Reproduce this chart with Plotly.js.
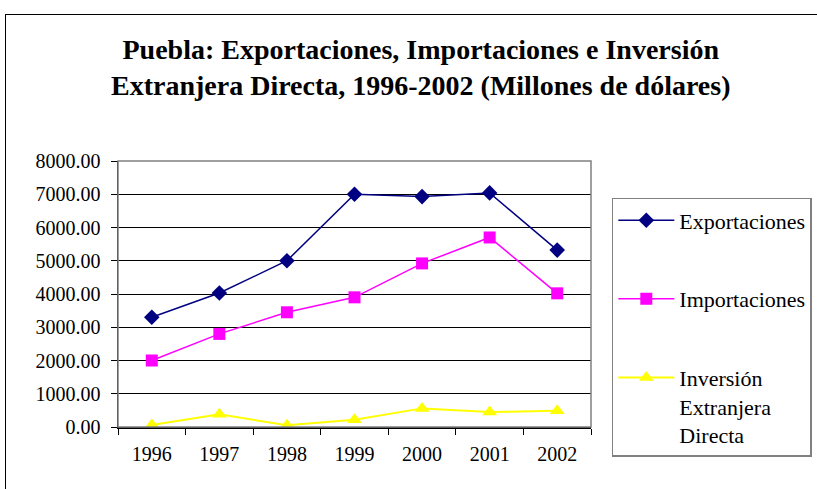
<!DOCTYPE html>
<html>
<head>
<meta charset="utf-8">
<script src="https://cdn.plot.ly/plotly-3.0.1.min.js"></script>
<style>
html,body{margin:0;padding:0;background:#fff;overflow:hidden;}
#frame{position:absolute;left:5px;top:14px;width:900px;height:600px;border:1.5px solid #000;pointer-events:none;}
#chart{position:absolute;left:0;top:0;width:817px;height:489px;}
</style>
</head>
<body>
<div id="chart"></div>
<div id="frame"></div>
<script>
const years = ["1996","1997","1998","1999","2000","2001","2002"];
const exportaciones = [3300, 4030, 5000, 7000, 6930, 7040, 5320];
const importaciones = [2000, 2800, 3450, 3900, 4920, 5700, 4020];
const inversion = [60, 380, 50, 220, 560, 450, 490];
const yTicks = [0,1000,2000,3000,4000,5000,6000,7000,8000];
const yTickText = yTicks.map(v => v.toFixed(2));

const SERIF = "Liberation Serif";

const traces = [
  {x: years, y: exportaciones, name: "Exportaciones", type: "scatter", mode: "lines+markers",
   line: {color: "#000080", width: 1.5}, marker: {symbol: "diamond", size: 12, color: "#000080"}, legendgroup: "a"},
  {x: years, y: importaciones, name: "Importaciones", type: "scatter", mode: "lines+markers",
   line: {color: "#FF00FF", width: 1.5}, marker: {symbol: "square", size: 12, color: "#FF00FF"}, legendgroup: "b"},
  {x: years, y: inversion, name: "Inversión<br>Extranjera<br>Directa", type: "scatter", mode: "lines+markers",
   line: {color: "#FFFF00", width: 2}, marker: {symbol: "triangle-up", size: 13, color: "#FFFF00"}, legendgroup: "c"}
];

const layout = {
  width: 817, height: 489,
  margin: {l: 118, r: 226, t: 161, b: 62, autoexpand: false},
  paper_bgcolor: "#fff", plot_bgcolor: "#fff",
  font: {family: SERIF, color: "#000", size: 19},
  title: {
    text: "<b>Puebla: Exportaciones, Importaciones e Inversión<br>Extranjera Directa, 1996-2002 (Millones de dólares)</b>",
    font: {family: SERIF, size: 28, color: "#000"},
    x: 0.515, xanchor: "center", y: 0.88, yanchor: "top"
  },
  xaxis: {
    type: "category", tickson: "boundaries", ticks: "outside", ticklen: 6, tickcolor: "#000",
    showline: true, linecolor: "#000", linewidth: 1.5, showgrid: false, zeroline: false,
    tickfont: {family: SERIF, size: 20, color: "#000"}, ticklabelstandoff: 8,
    range: [-0.5, 6.5], fixedrange: true
  },
  yaxis: {
    range: [0, 8000], tickvals: yTicks, ticktext: yTickText, ticks: "outside", ticklen: 6, tickcolor: "#000",
    showline: true, linecolor: "#000", linewidth: 1.5, showgrid: true, gridcolor: "#000", gridwidth: 1,
    zeroline: false, tickfont: {family: SERIF, size: 20, color: "#000"}, ticklabelstandoff: 6, fixedrange: true
  },
  shapes: [
    {type: "rect", xref: "paper", yref: "paper", x0: 0, x1: 1, y0: 0, y1: 1, line: {color: "#808080", width: 1.5}}
  ],
  showlegend: true,
  legend: {
    x: 1.044, xanchor: "left", y: 0.861, yanchor: "top",
    bordercolor: "#808080", borderwidth: 1.5, bgcolor: "#fff",
    font: {size: 22, family: SERIF, color: "#000"},
    tracegroupgap: 47, itemwidth: 56, valign: "top", entrywidth: 175, entrywidthmode: "pixels"
  }
};

Plotly.newPlot("chart", traces, layout, {displayModeBar: false, staticPlot: true});
</script>
</body>
</html>
